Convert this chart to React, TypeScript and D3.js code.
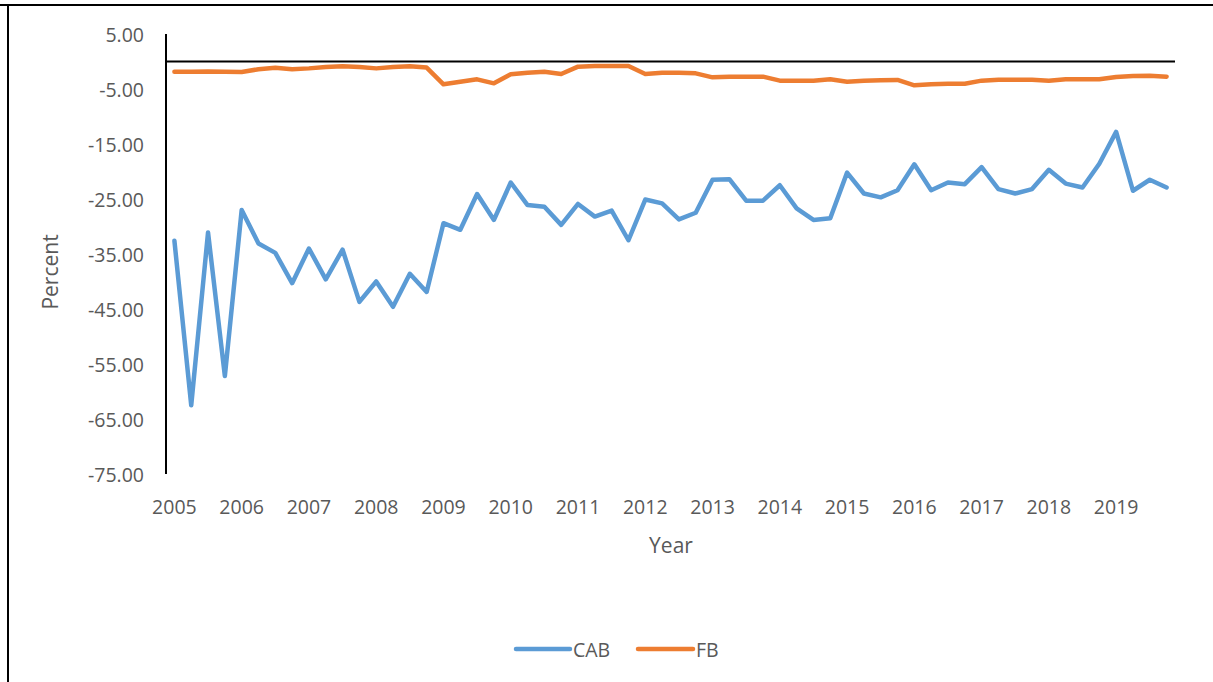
import React from "react";
import * as d3 from "d3";

const years = ["2005","2006","2007","2008","2009","2010","2011","2012","2013","2014","2015","2016","2017","2018","2019"];
const quarters = ["Q1","Q2","Q3","Q4"];
const periods: string[] = years.flatMap((y) => quarters.map((q) => `${y}${q}`));

const cab = [
  -32.6, -62.5, -31.1, -57.2,
  -27.0, -33.1, -34.8, -40.3,
  -34.0, -39.6, -34.2, -43.7,
  -40.0, -44.6, -38.6, -41.9,
  -29.4, -30.6, -24.1, -28.8,
  -22.0, -26.1, -26.4, -29.7,
  -25.9, -28.2, -27.1, -32.5,
  -25.1, -25.8, -28.7, -27.5,
  -21.5, -21.4, -25.3, -25.3,
  -22.5, -26.7, -28.8, -28.5,
  -20.2, -24.0, -24.7, -23.4,
  -18.7, -23.4, -22.0, -22.3,
  -19.2, -23.2, -24.0, -23.2,
  -19.7, -22.2, -22.9, -18.6,
  -12.8, -23.5, -21.5, -22.9,
];

const fb = [
  -1.85, -1.85, -1.8, -1.85,
  -1.9, -1.4, -1.15, -1.4,
  -1.25, -1.0, -0.85, -1.0,
  -1.25, -1.0, -0.85, -1.1,
  -4.15, -3.67, -3.24, -3.97,
  -2.33, -2.03, -1.85, -2.27,
  -0.94, -0.82, -0.82, -0.82,
  -2.27, -2.03, -2.03, -2.15,
  -2.88, -2.76, -2.76, -2.76,
  -3.48, -3.48, -3.48, -3.24,
  -3.67, -3.48, -3.42, -3.36,
  -4.33, -4.15, -4.03, -4.03,
  -3.48, -3.3, -3.3, -3.3,
  -3.48, -3.24, -3.24, -3.24,
  -2.82, -2.64, -2.58, -2.76,
];

const yTicks = [5, -5, -15, -25, -35, -45, -55, -65, -75];

const series = [
  { name: "CAB", values: cab, color: "#5B9BD5" },
  { name: "FB", values: fb, color: "#ED7D31" },
];

const W = 1213;
const H = 682;
const plot = { left: 166, right: 1175, top: 34, bottom: 474 };
const FONT = "'Open Sans', sans-serif";
const TXT = "#595959";

export default function App() {
  const x = d3
    .scaleBand<string>()
    .domain(periods)
    .range([plot.left, plot.right])
    .paddingInner(0)
    .paddingOuter(0);
  const cx = (p: string) => (x(p) as number) + x.bandwidth() / 2;
  const y = d3.scaleLinear().domain([-75, 5]).range([plot.bottom, plot.top]);

  const line = d3
    .line<number>()
    .x((_, i) => cx(periods[i]))
    .y((d) => y(d));

  const legendY = 649;
  const legendItems = [
    { s: series[0], x0: 516, x1: 570, tx: 573 },
    { s: series[1], x0: 638, x1: 693, tx: 696 },
  ];

  return (
    <svg
      width={W}
      height={H}
      style={{ position: "absolute", left: 0, top: 0, background: "#fff" }}
      fontFamily={FONT}
    >
      <rect x={0} y={0} width={W} height={H} fill="#fff" />
      {/* outer frame */}
      <line x1={0} x2={W} y1={5} y2={5} stroke="#000" strokeWidth={2} />
      <line x1={8} x2={8} y1={5} y2={H} stroke="#000" strokeWidth={2} />

      {/* y tick labels */}
      {yTicks.map((t) => (
        <text
          key={t}
          x={144}
          y={y(t)}
          textAnchor="end"
          dominantBaseline="central"
          fontSize={19.5}
          fill={TXT}
        >
          {t.toFixed(2)}
        </text>
      ))}

      {/* x tick labels */}
      {years.map((yr) => (
        <text
          key={yr}
          x={cx(`${yr}Q1`)}
          y={506}
          textAnchor="middle"
          dominantBaseline="central"
          fontSize={19.5}
          fill={TXT}
        >
          {yr}
        </text>
      ))}

      {/* axes */}
      <line x1={plot.left} x2={plot.left} y1={plot.top} y2={plot.bottom} stroke="#000" strokeWidth={2} />
      <line x1={plot.left} x2={plot.right} y1={y(0)} y2={y(0)} stroke="#000" strokeWidth={2} />

      {/* series */}
      {series.map((s) => (
        <path
          key={s.name}
          d={line(s.values) as string}
          fill="none"
          stroke={s.color}
          strokeWidth={4.5}
          strokeLinejoin="round"
          strokeLinecap="round"
        />
      ))}

      {/* axis titles */}
      <text x={671} y={545} textAnchor="middle" dominantBaseline="central" fontSize={21} fill={TXT}>
        Year
      </text>
      <text
        transform={`translate(50,272) rotate(-90)`}
        textAnchor="middle"
        dominantBaseline="central"
        fontSize={21}
        fill={TXT}
      >
        Percent
      </text>

      {/* legend */}
      {legendItems.map(({ s, x0, x1, tx }) => (
        <g key={s.name}>
          <line x1={x0} x2={x1} y1={legendY} y2={legendY} stroke={s.color} strokeWidth={4.5} strokeLinecap="round" />
          <text x={tx} y={legendY} dominantBaseline="central" fontSize={19.5} fill={TXT}>
            {s.name}
          </text>
        </g>
      ))}
    </svg>
  );
}
